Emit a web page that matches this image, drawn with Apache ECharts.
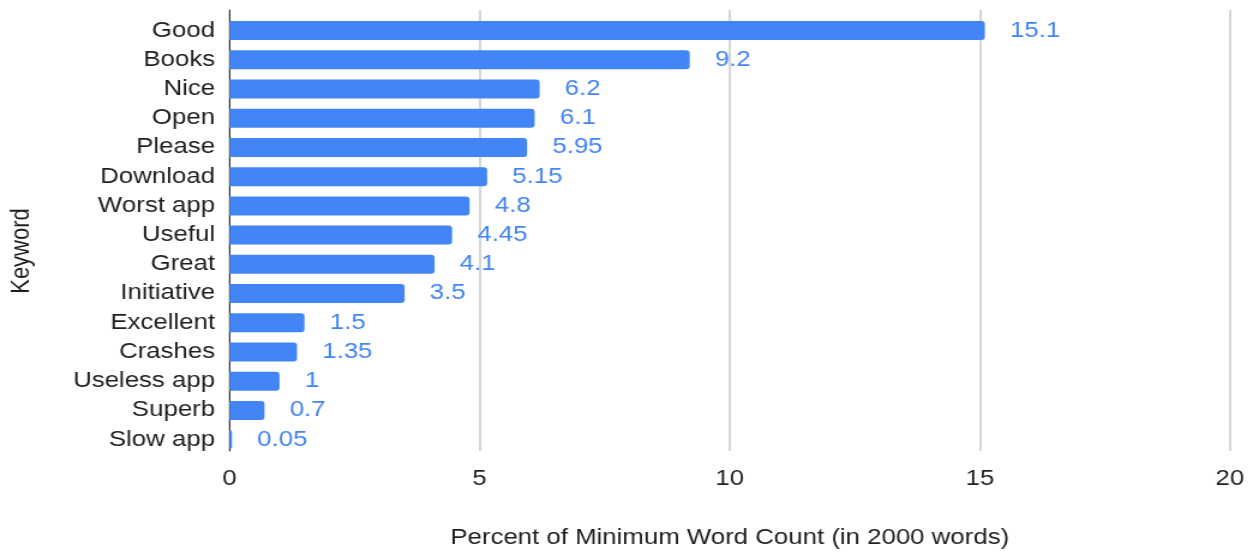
<!DOCTYPE html>
<html>
<head>
<meta charset="utf-8">
<script src="https://cdn.jsdelivr.net/npm/echarts@6/dist/echarts.min.js"></script>
<style>
html, body { margin: 0; padding: 0; background: #fff; overflow: hidden; width: 1259px; height: 554px; }
#chart { width: 1049px; height: 554px; transform: scaleX(1.20019); transform-origin: 0 0; }
</style>
</head>
<body>
<div id="chart"></div>
<script>
const categories = ['Good', 'Books', 'Nice', 'Open', 'Please', 'Download', 'Worst app', 'Useful', 'Great', 'Initiative', 'Excellent', 'Crashes', 'Useless app', 'Superb', 'Slow app'];
const values = [15.1, 9.2, 6.2, 6.1, 5.95, 5.15, 4.8, 4.45, 4.1, 3.5, 1.5, 1.35, 1, 0.7, 0.05];
const xTicks = { min: 0, max: 20, interval: 5 };
const xTitle = 'Percent of Minimum Word Count (in 2000 words)';
const yTitle = 'Keyword';

const FONT = '"Liberation Sans", Arial, sans-serif';
const TXT = '#1f1f1f';
const chart = echarts.init(document.getElementById('chart'), null, { renderer: 'canvas' });

chart.setOption({
  animation: false,
  backgroundColor: '#ffffff',
  textStyle: { fontFamily: FONT },
  grid: [
    { left: 191.2, right: 24.2, top: 16, bottom: 99.8, containLabel: false },
    { left: 191.2, right: 24.2, top: 10, bottom: 95, containLabel: false }
  ],
  xAxis: [
    {
      gridIndex: 0, type: 'value', min: xTicks.min, max: xTicks.max, interval: xTicks.interval,
      axisLine: { show: false }, axisTick: { show: false }, axisLabel: { show: false }, splitLine: { show: false }
    },
    {
      gridIndex: 1, type: 'value', min: xTicks.min, max: xTicks.max, interval: xTicks.interval,
      axisLine: { show: false }, axisTick: { show: false },
      axisLabel: { show: true, margin: 17, fontSize: 21.5, color: TXT, fontFamily: FONT },
      splitLine: { show: true, lineStyle: { color: '#cccccc', width: 1.6 } },
      name: xTitle, nameLocation: 'middle', nameGap: 76,
      nameTextStyle: { fontSize: 21.5, color: TXT, fontFamily: FONT }
    }
  ],
  yAxis: [
    {
      gridIndex: 0, type: 'category', data: categories, inverse: true,
      axisLine: { show: false }, axisTick: { show: false },
      axisLabel: { margin: 12, fontSize: 21.5, color: TXT, fontFamily: FONT }
    },
    {
      gridIndex: 1, type: 'category', data: [''],
      axisLine: { show: true, lineStyle: { color: '#333333', width: 1 } },
      axisTick: { show: false }, axisLabel: { show: false }, splitLine: { show: false }
    }
  ],
  graphic: [
    {
      type: 'text', x: 18, y: 251, rotation: Math.PI / 2,
      style: { text: yTitle, fill: TXT, font: '22px ' + FONT, align: 'center', verticalAlign: 'middle' }
    }
  ],
  series: [
    {
      type: 'bar', xAxisIndex: 0, yAxisIndex: 0, data: values, barWidth: 19, z: 3,
      itemStyle: { color: '#4285f4', borderRadius: [0, 3, 3, 0] },
      label: { show: true, position: 'right', distance: 21, fontSize: 21.5, color: '#4285f4', fontFamily: FONT, formatter: '{c}' }
    }
  ]
});
</script>
</body>
</html>
